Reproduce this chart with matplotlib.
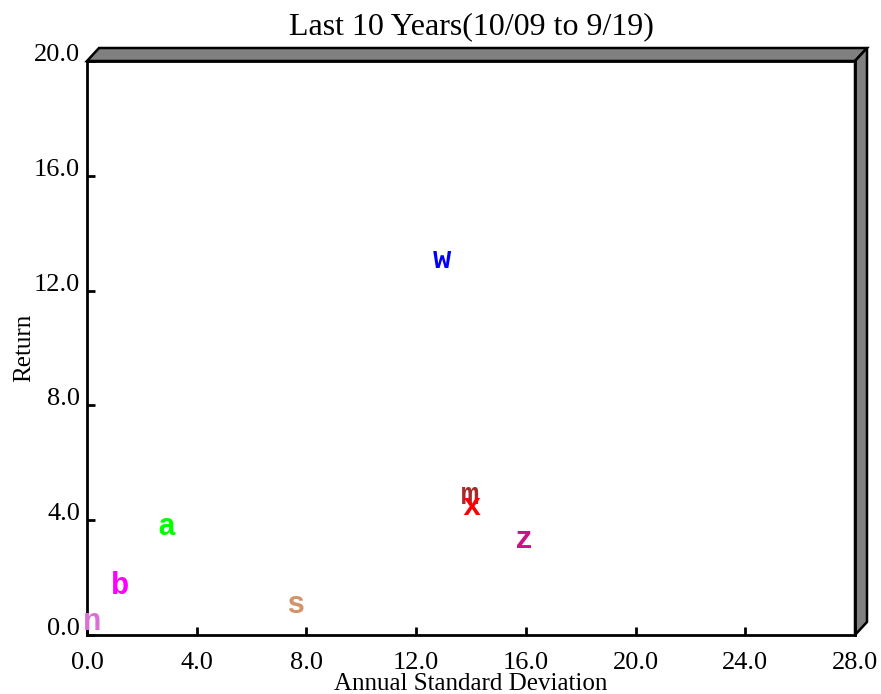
import matplotlib.pyplot as plt
from matplotlib.patches import Polygon

labels = ['w', 'm', 'x', 'z', 'a', 'b', 's', 'n']
std_dev = [12.95, 13.95, 14.0, 15.95, 2.9, 1.2, 7.6, 0.2]
returns = [13.05, 4.85, 4.45, 3.3, 3.75, 1.7, 1.05, 0.45]
colors = ['#0000FF', '#A52A2A', '#FF0000', '#C71585', '#00FF00', '#FF00FF', '#D2926A', '#DA70D6']

xticks = [0, 4, 8, 12, 16, 20, 24, 28]
yticks = [0, 4, 8, 12, 16, 20]

fig = plt.figure(figsize=(8.81, 6.94), dpi=100)
ax = fig.add_axes([87 / 881, 59 / 694, 768 / 881, 574 / 694])
ax.set_xlim(0, 28)
ax.set_ylim(0, 20)

for lab, xv, yv, c in zip(labels, std_dev, returns, colors):
    ax.text(xv, yv, lab, color=c, ha='center', va='center', fontsize=22,
            fontweight='bold', family='Liberation Mono', zorder=6, clip_on=False)

# 3D frame faces
dx = 12 / 768
dy = 13 / 574
top = Polygon([(0, 1), (1, 1), (1 + dx, 1 + dy), (dx, 1 + dy)], closed=True,
              facecolor='#808080', edgecolor='black', lw=1.8,
              transform=ax.transAxes, clip_on=False)
right = Polygon([(1, 0), (1 + dx, dy), (1 + dx, 1 + dy), (1, 1)], closed=True,
                facecolor='#808080', edgecolor='black', lw=1.8,
                transform=ax.transAxes, clip_on=False)
ax.add_patch(top)
ax.add_patch(right)

for s in ax.spines.values():
    s.set_linewidth(2)
    s.set_zorder(5)

ax.set_xticks(xticks)
ax.set_xticklabels(['%.1f' % v for v in xticks])
ax.set_yticks(yticks)
ax.set_yticklabels(['%.1f' % v for v in yticks], va='baseline')
ax.tick_params(direction='in', length=6, width=2, labelsize=19)
ax.tick_params(axis='x', pad=12)
ax.tick_params(axis='y', pad=5)
for t in ax.get_xticklabels() + ax.get_yticklabels():
    t.set_family('Liberation Serif')

ax.set_title('Last 10 Years(10/09 to 9/19)', fontsize=23, family='Liberation Serif', pad=19)
ax.set_xlabel('Annual Standard Deviation', fontsize=18, family='Liberation Serif', va='center')
ax.xaxis.set_label_coords(0.5, -49 / 574)
ax.set_ylabel('Return', fontsize=18, family='Liberation Serif', va='center')
ax.yaxis.set_label_coords(-63 / 768, 0.5)

fig.savefig('out.png', dpi=100)
